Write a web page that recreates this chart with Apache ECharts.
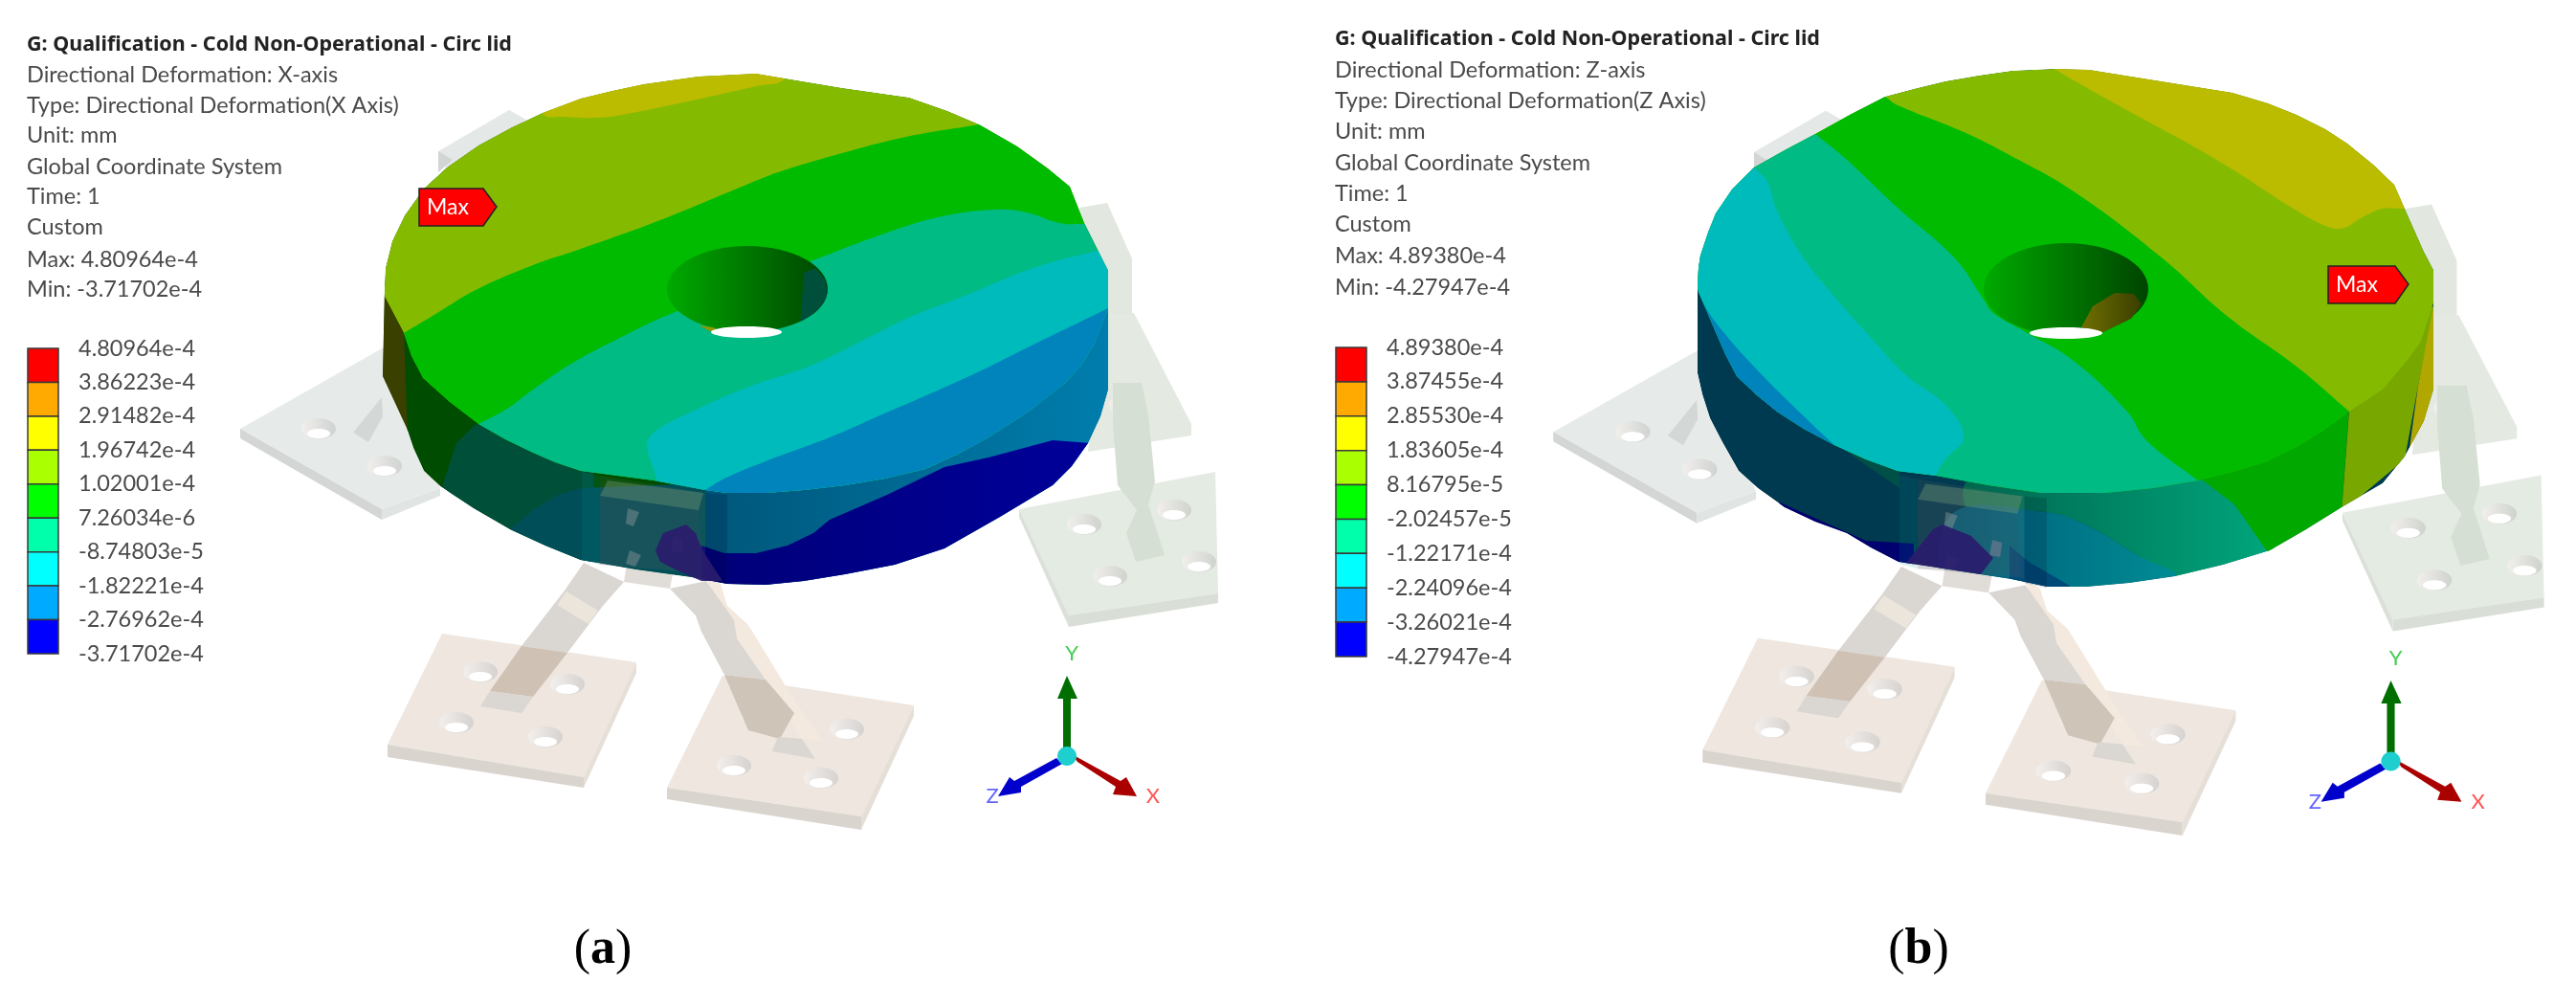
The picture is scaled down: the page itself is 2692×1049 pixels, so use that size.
<!DOCTYPE html>
<html lang="en">
<head>
  <meta charset="utf-8">
  <title>Directional deformation of the circular lid</title>
  <script src="https://cdn.jsdelivr.net/npm/echarts@6/dist/echarts.min.js"></script>
  <style>
    * { margin: 0; padding: 0; }
    html, body, #chart { width: 100%; height: 100%; overflow: hidden; background: #fff; }
  </style>
</head>
<body>
  <div id="chart"></div>
  <script>
    // ---- text ----
    var head = 'G: Qualification - Cold Non-Operational - Circ lid';
    var infoA = ['Directional Deformation: X-axis', 'Type: Directional Deformation(X Axis)', 'Unit: mm',
      'Global Coordinate System', 'Time: 1', 'Custom', 'Max: 4.80964e-4', 'Min: -3.71702e-4'];
    var infoB = ['Directional Deformation: Z-axis', 'Type: Directional Deformation(Z Axis)', 'Unit: mm',
      'Global Coordinate System', 'Time: 1', 'Custom', 'Max: 4.89380e-4', 'Min: -4.27947e-4'];
    var scaleA = ['4.80964e-4', '3.86223e-4', '2.91482e-4', '1.96742e-4', '1.02001e-4', '7.26034e-6',
      '-8.74803e-5', '-1.82221e-4', '-2.76962e-4', '-3.71702e-4'];
    var scaleB = ['4.89380e-4', '3.87455e-4', '2.85530e-4', '1.83605e-4', '8.16795e-5', '-2.02457e-5',
      '-1.22171e-4', '-2.24096e-4', '-3.26021e-4', '-4.27947e-4'];
    var scaleColors = ['#ff0000', '#ffaa00', '#ffff00', '#aaff00', '#00ff00', '#00ffaa', '#00ffff', '#00aaff', '#0000ff'];

    // ---- panel (a) lid, outlines and contour regions ----
    var aArc = [[402,300],[403,280],[410,252],[423,225],[443,197],[467,175],[500,152],[535,133],[567,118],[607,103],[640,95],[673,88],[730,80],[790,77],[820,82],[880,92],[950,102],[990,116],[1023,130],[1063,153],[1095,176],[1118,195],[1133,233],[1158,283]];
    var aRim = [[1158,322],[1143,360],[1130,382],[1113,400],[1075,430],[1033,457],[1000,475],[967,490],[925,500],[883,507],[840,512],[800,515],[760,515],[737,512],[683,502],[645,497],[607,492],[580,483],[557,473],[528,459],[500,443],[470,420],[442,395],[430,372],[422,348],[402,310]];
    var aFoot = [[1158,407],[1150,435],[1137,463],[1120,487],[1100,507],[1045,540],[987,573],[935,590],[883,600],[840,607],[800,611],[760,610],[723,603],[665,595],[607,585],[570,570],[533,553],[495,531],[460,508],[443,492],[432,468],[425,447],[400,393]];
    var aTop = aArc.concat(aRim);
    var aBody = aArc.concat(aFoot);
    var aOlive = [[567,118],[590,122],[623,123],[650,120],[723,105],[790,90],[820,82],[820,50],[560,50]];
    var aGreen = [[385,370],[422,348],[457,327],[497,303],[557,277],[607,260],[690,230],[780,193],[813,180],[880,160],[947,143],[1023,130],[1090,118],[1200,130],[1200,650],[385,650]];
    var aTeal = [[470,460],[500,443],[530,427],[557,407],[597,380],[640,357],[703,327],[847,273],[913,248],[980,227],[1040,219],[1073,222],[1107,233],[1133,234],[1170,234],[1200,650],[470,650]];
    var aCyan = [[692,530],[687,505],[683,490],[677,472],[677,460],[690,447],[723,430],[780,405],[847,382],[913,350],[947,333],[1013,307],[1080,280],[1147,262],[1185,255],[1200,650],[692,650]];
    var aBlue = [[710,528],[737,512],[757,500],[800,482],[867,457],[913,437],[1013,393],[1080,360],[1158,322],[1190,306],[1200,650],[710,650]];
    var aSideOlive = [[395,295],[422,348],[426,452],[395,452]];
    var aSideTeal = [[497,443],[477,463],[462,508],[533,570],[620,600],[620,480],[540,455]];
    var aSideCyan = [[533,553],[557,533],[583,517],[607,510],[737,505],[737,620],[560,590]];
    var aSideBlue = [[737,505],[1165,270],[1165,620],[737,620]];
    var aSideNavy = [[733,570],[757,578],[790,578],[823,570],[850,557],[867,543],[927,517],[987,488],[1033,478],[1100,460],[1140,463],[1170,470],[1170,650],[733,650]];
    var aBlob = [[685,575],[693,557],[717,548],[727,557],[733,573],[755,607],[733,607],[710,597],[690,587]];
    var aHole = [781, 302, 84, 45];
    var aHoleCap = [[840,285],[852,280],[862,292],[865,305],[860,322],[848,334],[836,341]];
    var aHoleLight = [780, 347, 37, 6];
    var aHoleOlive = [[730,340],[745,342],[755,347],[742,346]];
    var aFlag = [[438,197],[505,197],[519,216],[505,236],[438,236]];

    // ---- panel (b) lid ----
    var bArc = [[1774,300],[1775,280],[1777,267],[1785,243],[1793,223],[1810,198],[1833,175],[1865,157],[1897,140],[1933,120],[1970,101],[2000,93],[2033,85],[2068,79],[2103,74],[2147,72],[2183,73],[2258,85],[2333,97],[2370,108],[2400,120],[2430,135],[2453,150],[2480,172],[2502,193],[2513,218],[2533,263],[2543,282]];
    var bRim = [[2543,317],[2530,357],[2513,380],[2490,407],[2455,430],[2428,450],[2400,467],[2367,483],[2330,494],[2297,502],[2250,510],[2200,515],[2133,515],[2078,507],[2023,497],[1983,492],[1950,480],[1917,465],[1885,448],[1857,430],[1835,412],[1815,393],[1803,370],[1793,347],[1775,305]];
    var bFoot = [[2543,407],[2533,440],[2513,477],[2490,505],[2447,530],[2410,553],[2372,575],[2323,590],[2273,602],[2225,609],[2180,613],[2140,613],[2102,605],[2043,596],[1984,587],[1955,572],[1930,557],[1897,545],[1865,530],[1837,510],[1817,492],[1800,462],[1787,437],[1779,412],[1774,390]];
    var bTop = bArc.concat(bRim);
    var bBody = bArc.concat(bFoot);
    var bOlive = [[2120,55],[2147,72],[2183,93],[2250,130],[2287,150],[2333,177],[2400,220],[2433,237],[2450,238],[2467,228],[2490,218],[2513,218],[2570,218],[2600,50]];
    var bGreen = [[1945,85],[1970,101],[1983,110],[2050,137],[2100,162],[2167,200],[2260,270],[2327,330],[2400,383],[2455,430],[2495,465],[1700,700],[1700,50]];
    var bTeal = [[1870,118],[1897,140],[1930,167],[1983,217],[2043,270],[2073,313],[2083,327],[2117,347],[2167,377],[2223,430],[2243,460],[2297,502],[2335,530],[1700,700],[1700,50]];
    var bCyan = [[1825,165],[1835,177],[1847,190],[1857,220],[1883,267],[1917,310],[1950,347],[1993,393],[2033,423],[2052,457],[2033,480],[2023,497],[2015,530],[1700,700],[1700,50]];
    var bBlue = [[1760,285],[1776,310],[1793,337],[1833,383],[1883,433],[1917,465],[1950,495],[1700,700],[1700,310]];
    var bSideSliver = [[1920,465],[1985,490],[1985,510]];
    var bSideNavy = [[1860,525],[1950,565],[2000,568],[2000,600],[1925,580],[1850,540]];
    var bSideTeal = [[2060,500],[2297,498],[2335,527],[2375,578],[2273,602],[2233,580],[2183,550],[2137,535],[2060,537]];
    var bSideBlue = [[2040,537],[2137,535],[2183,550],[2233,580],[2273,602],[2200,620],[2040,620]];
    var bSideDeep = [[2100,570],[2120,587],[2163,612],[2163,620],[2100,620]];
    var bSideGreen = [[2297,498],[2455,425],[2447,535],[2372,580],[2335,527]];
    var bSideLime = [[2455,428],[2545,317],[2527,403],[2513,480],[2447,535]];
    var bSideOlive = [[2545,310],[2550,420],[2515,490],[2527,403]];
    var bBlob = [[1992,588],[2020,553],[2030,548],[2060,560],[2083,583],[2070,600]];
    var bHole = [2159, 302, 86, 48];
    var bHoleOlive = [[2175,342],[2187,320],[2210,306],[2230,307],[2238,318],[2227,333],[2198,347]];
    var bHoleLight = [2159, 348, 38, 6];
    var bFlag = [[2433,278],[2503,278],[2517,297],[2503,317],[2433,317]];

    // ---- mounts, shared by both panels (panel a scene units) ----
    var plateLeft = [[251,448],[401,363],[460,510],[399,532]];
    var plateLeftSide = [[251,448],[399,532],[399,543],[251,458]];
    var plateLeftEdge = [[399,532],[460,510],[460,518],[399,543]];
    var plateLeftLeg = [[369,452],[399,415],[400,435],[385,462]];
    var plateLeftHoles = [[333,448],[402,487]];
    var tabBack = [[458,158],[532,115],[550,125],[467,177]];
    var tabBackSide = [[458,158],[473,167],[458,180]];
    var tabRight = [[1128,217],[1157,212],[1183,270],[1183,328],[1150,328]];
    var plateUpper = [[1150,328],[1185,327],[1245,443],[1245,455],[1137,472]];
    var plateUpperHoles = [[1177,423]];
    var legRight = [[1163,400],[1193,400],[1200,433],[1207,503],[1200,527],[1217,580],[1187,587],[1177,557],[1188,533],[1168,507],[1163,443]];
    var plateRight = [[1065,532],[1270,493],[1273,620],[1117,643]];
    var plateRightSide = [[1117,643],[1273,620],[1273,630],[1117,655]];
    var plateRightEdge = [[1065,532],[1117,643],[1117,655],[1065,540]];
    var plateRightHoles = [[1133,548],[1227,533],[1160,602],[1253,587]];
    var plateFrontA = [[462,662],[665,692],[610,812],[405,778]];
    var plateFrontASide = [[405,778],[610,812],[610,823],[405,791]];
    var plateFrontAEdge = [[665,692],[665,703],[610,823],[610,812]];
    var plateFrontAHoles = [[502,702],[593,715],[477,755],[570,770]];
    var plateFrontB = [[755,706],[955,737],[900,853],[697,823]];
    var plateFrontBSide = [[697,823],[900,853],[900,867],[697,835]];
    var plateFrontBEdge = [[955,737],[955,748],[900,867],[900,853]];
    var plateFrontBHoles = [[792,747],[885,762],[767,800],[858,813]];
    var strut = [[652,608],[700,615],[705,590],[655,590]];
    var legA = [[610,588],[652,608],[630,633],[593,682],[545,675],[590,617]];
    var legABand = [[592,618],[625,638],[615,652],[582,632]];
    var legAFoot = [[545,675],[593,682],[557,728],[512,722]];
    var legATip = [[512,722],[557,728],[545,745],[502,738]];
    var legBFin = [[737,603],[753,610],[760,633],[782,653],[823,720],[860,775],[837,772],[800,710],[770,667]];
    var legB = [[700,615],[738,607],[767,648],[770,667],[800,710],[757,705],[733,660],[727,643]];
    var legBFoot = [[757,705],[800,710],[830,745],[815,772],[782,763]];
    var legBTip = [[813,770],[838,772],[852,793],[807,785]];
    var bracketBox = [[627,497],[737,515],[737,600],[627,590]];
    var bracketStrip = [[608,493],[627,497],[627,590],[608,585]];
    var bracketBar = [[737,515],[760,517],[760,610],[737,605]];
    var bracketTop = [[635,502],[735,515],[730,533],[627,518]];
    var bracketInner = [[627,518],[730,533],[733,597],[627,590]];
    var bracketPegs = [[[656,531],[668,535],[662,550],[654,547]], [[658,575],[670,580],[664,592],[654,589]], [[704,560],[714,563],[712,578],[701,576]]];

    // ---- axis triad ----
    var triadY = [[1111,790],[1119,790],[1119,730],[1126,730],[1115,706],[1105,730],[1111,730]];
    var triadX = [[1120,788],[1126,796],[1166,822],[1163,830],[1188,832],[1177,812],[1171,816]];
    var triadZ = [[1104,792],[1110,798],[1067,822],[1067,828],[1043,832],[1055,812],[1060,816]];
    var triadBall = [1115, 790, 10, 10];
    var triadLetters = [['Y', 1120, 683, '#44cc55'], ['Z', 1037, 832, '#6666ff'], ['X', 1205, 832, '#ff5555']];

    // ---- text placement ----
    var lineYA = [45, 77, 109, 140, 173, 204, 236, 270, 301];
    var lineYB = [39, 72, 104, 136, 169, 201, 233, 266, 299];

    // ---- shape helpers, everything goes through api.coord / api.size ----
    var hgrad = function (from, to) {
      return { type: 'linear', x: 0, y: 0, x2: 1, y2: 0, colorStops: [{ offset: 0, color: from }, { offset: 1, color: to }] };
    };
    function poly(pts, fill) { return { pts: pts, fill: fill }; }
    function band(pts, fill) { return { pts: pts, fill: fill, smooth: 0.4 }; }
    function oval(box, fill) { return { box: box, fill: fill }; }
    function holes(centers, rim) {
      var out = [];
      centers.forEach(function (c) {
        out.push(oval([c[0], c[1], 18, 11], hgrad('#f2efec', rim)));
        out.push(oval([c[0], c[1] + 5, 12, 5], '#ffffff'));
      });
      return out;
    }
    function toEl(s, api) {
      if (s.pts) {
        return { type: 'polygon', shape: { points: s.pts.map(function (p) { return api.coord(p); }), smooth: s.smooth || 0 }, style: { fill: s.fill } };
      }
      var c = api.coord([s.box[0], s.box[1]]);
      var r = api.size([s.box[2], s.box[3]]);
      return { type: 'ellipse', shape: { cx: c[0], cy: c[1], rx: r[0], ry: r[1] }, style: { fill: s.fill } };
    }
    // one custom series per layer; optional outline clips the whole layer
    function layer(shapes, axis, outline, z) {
      return {
        type: 'custom', xAxisIndex: axis, yAxisIndex: axis, z: z, silent: true, data: [[0, 0]],
        renderItem: function (params, api) {
          var group = { type: 'group', children: shapes.map(function (s) { return toEl(s, api); }) };
          if (outline) {
            group.clipPath = { type: 'polygon', shape: { points: outline.map(function (p) { return api.coord(p); }) } };
          }
          return group;
        }
      };
    }

    var backProps = [].concat(
      [poly(plateLeft, '#e6ebe9'), poly(plateLeftSide, '#d3d6d5'), poly(plateLeftEdge, '#e0e4e2')],
      holes(plateLeftHoles, '#cfd3d1'),
      [poly(plateLeftLeg, '#d3d8d6')],
      [poly(tabBack, '#e4e8e6'), poly(tabBackSide, '#d2d5d3')],
      [poly(tabRight, '#e2e8df'), poly(plateUpper, '#e4eae2')],
      holes(plateUpperHoles, '#cfd3cd'),
      [poly(plateRight, '#e4ebe2'), poly(plateRightSide, '#d9ded7'), poly(plateRightEdge, '#dbe0d9')],
      holes(plateRightHoles, '#cfd3cd'),
      [poly(legRight, '#d6dfd3')],
      [poly(plateFrontA, '#eee6df'), poly(plateFrontASide, '#d9d4ce'), poly(plateFrontAEdge, '#e6dfd8')],
      holes(plateFrontAHoles, '#d5d2cf'),
      [poly(plateFrontB, '#eee6df'), poly(plateFrontBSide, '#d9d4ce'), poly(plateFrontBEdge, '#e6dfd8')],
      holes(plateFrontBHoles, '#d5d2cf'),
      [poly(strut, '#e0dcd8'), poly(legA, '#dad6d2'), poly(legABand, '#ece5dc'), poly(legAFoot, '#cfc2b5'), poly(legATip, '#dad6d2')],
      [poly(legBFin, '#f3e9de'), poly(legB, '#dad6d2'), poly(legBFoot, '#cfc4b8'), poly(legBTip, '#dad6d2')]
    );
    var frontProps = [
      poly(bracketStrip, 'rgba(0,150,150,0.14)'), poly(bracketBox, 'rgba(110,120,110,0.14)'), poly(bracketBar, 'rgba(0,0,40,0.16)'),
      poly(bracketInner, 'rgba(80,80,90,0.14)'), poly(bracketTop, 'rgba(120,150,115,0.4)'),
      poly(bracketPegs[0], 'rgba(140,150,150,0.45)'), poly(bracketPegs[1], 'rgba(140,150,150,0.45)'), poly(bracketPegs[2], 'rgba(140,130,150,0.5)')
    ];
    var triad = [poly(triadY, '#006f00'), poly(triadX, '#aa0000'), poly(triadZ, '#0000cc'), oval(triadBall, '#1fcfcf')];

    var aSide = [poly(aBody, '#004c00'), poly(aSideOlive, '#3a4000'), poly(aSideTeal, '#004f38'), poly(aSideCyan, '#004f58'),
      poly(aSideBlue, hgrad('#00567a', '#007eae')), poly(aSideNavy, hgrad('#000078', '#00009c'))];
    var aFace = [poly(aTop, '#84bb00'), band(aOlive, '#bbbb00'), band(aGreen, '#00bb00'), band(aTeal, '#00bb84'), band(aCyan, '#00bbbb'), band(aBlue, '#0084bb')];
    var aBore = [oval(aHole, hgrad('#00aa00', '#004400'))];
    var aBoreCap = [oval(aHole, '#004f3a')];
    var aBoreLight = [poly(aHoleOlive, '#8a9a00'), oval(aHoleLight, '#ffffff')];
    var bSide = [poly(bBody, '#003a50'), poly(bSideSliver, '#005048'), poly(bSideNavy, '#00006e'),
      band(bSideTeal, hgrad('#00664e', '#00a67c')), band(bSideBlue, hgrad('#005a78', '#008c94')), poly(bSideDeep, '#004a78'),
      poly(bSideGreen, '#00a800'), poly(bSideLime, '#78a800'), poly(bSideOlive, '#b0a800')];
    var bFace = [poly(bTop, '#84bb00'), band(bOlive, '#bbbb00'), band(bGreen, '#00bb00'), band(bTeal, '#00bb84'), band(bCyan, '#00bbbb'), band(bBlue, '#0084bb')];
    var bBore = [oval(bHole, hgrad('#00aa00', '#004400')), poly(bHoleOlive, hgrad('#6f6f00', '#3a3f00')), oval(bHoleLight, '#ffffff')];
    var blobs = [poly(aBlob, 'rgba(42,28,108,0.92)'), poly(bBlob, 'rgba(42,28,108,0.92)')];

    function flagSeries(pts, x, y) {
      return {
        type: 'custom', xAxisIndex: 0, yAxisIndex: 0, z: 8, silent: true, data: [[0, 0]],
        renderItem: function (params, api) {
          var c = api.coord([x, y]);
          return { type: 'group', children: [
            { type: 'polygon', shape: { points: pts.map(function (p) { return api.coord(p); }) }, style: { fill: '#ff0000', stroke: '#222', lineWidth: 1.5 } },
            { type: 'text', x: c[0], y: c[1], style: { text: 'Max', fill: '#fff', font: '23px Lato', verticalAlign: 'middle' } }
          ] };
        }
      };
    }
    function triadText(axis) {
      return {
        type: 'custom', xAxisIndex: axis, yAxisIndex: axis, z: 8, silent: true, data: triadLetters.map(function (d, i) { return [i, 0]; }),
        renderItem: function (params, api) {
          var d = triadLetters[params.dataIndex];
          var c = api.coord([d[1], d[2]]);
          return { type: 'text', x: c[0], y: c[1], style: { text: d[0], fill: d[3], font: '22px Lato', align: 'center', verticalAlign: 'middle' } };
        }
      };
    }
    function barSeries(axis) {
      return {
        type: 'custom', xAxisIndex: axis, yAxisIndex: axis, z: 8, silent: true, data: scaleColors.map(function (c, i) { return [0, i]; }),
        renderItem: function (params, api) {
          var i = params.dataIndex;
          var p0 = api.coord([0, i]);
          var p1 = api.coord([1, i + 1]);
          return { type: 'rect', shape: { x: p0[0], y: p0[1], width: p1[0] - p0[0], height: p1[1] - p0[1] },
            style: { fill: scaleColors[i], stroke: '#3a3a3a', lineWidth: 1.5 } };
        }
      };
    }

    // text block: one title per line
    var titles = [];
    function textBlock(x, lines, ys) {
      titles.push({ left: x, top: ys[0] - 9, padding: 0, text: head, textStyle: { fontFamily: 'Noto Sans', fontSize: 21.5, fontWeight: 'bold', color: '#222' } });
      lines.forEach(function (s, i) {
        titles.push({ left: x, top: ys[i + 1] - 11, padding: 0, text: s, textStyle: { fontFamily: 'Lato', fontSize: 23.5, fontWeight: 'normal', color: '#4a4a4a' } });
      });
    }
    textBlock(28, infoA, lineYA);
    textBlock(1395, infoB, lineYB);
    function caption(cx, letter) {
      titles.push({ left: cx, top: 962, textAlign: 'center', text: '{n|(}{b|' + letter + '}{n|)}', textStyle: { rich: {
        n: { fontFamily: 'Liberation Serif', fontSize: 52, fontWeight: 'normal', color: '#000' },
        b: { fontFamily: 'Liberation Serif', fontSize: 52, fontWeight: 'bold', color: '#000' } } } });
    }
    caption(625, 'a');
    caption(2000, 'b');

    function hiddenAxis(min, max, inverse, grid) {
      return { type: 'value', min: min, max: max, inverse: inverse, show: false, gridIndex: grid };
    }
    function scaleAxis(labels, grid) {
      return {
        type: 'value', min: 0, max: 9, interval: 1, inverse: true, gridIndex: grid, position: 'right',
        axisLine: { show: false }, axisTick: { show: false }, splitLine: { show: false },
        axisLabel: { margin: 21, align: 'left', fontFamily: 'Lato', fontSize: 23.5, color: '#4a4a4a', hideOverlap: false, showMinLabel: true, showMaxLabel: true,
          formatter: function (v) { return labels[v]; } }
      };
    }

    var chart = echarts.init(document.getElementById('chart'));
    chart.setOption({
      animation: false,
      backgroundColor: '#ffffff',
      title: titles,
      grid: [
        { left: 0, top: 0, width: 2692, height: 1049 },
        { left: 1369, top: -6, width: 1316.9, height: 1013 },
        { left: 29, top: 364, width: 32, height: 319 },
        { left: 1396, top: 363, width: 32, height: 323 }
      ],
      xAxis: [hiddenAxis(0, 2692, false, 0), hiddenAxis(0, 1300, false, 1), hiddenAxis(0, 1, false, 2), hiddenAxis(0, 1, false, 3)],
      yAxis: [hiddenAxis(0, 1049, true, 0), hiddenAxis(0, 1000, true, 1), scaleAxis(scaleA, 2), scaleAxis(scaleB, 3)],
      series: [
        layer(backProps, 0, null, 2),
        layer(backProps, 1, null, 2),
        layer(aSide, 0, aBody, 3),
        layer(bSide, 0, bBody, 3),
        layer(aFace, 0, aTop, 4),
        layer(bFace, 0, bTop, 4),
        layer(aBore, 0, null, 5),
        layer(aBoreCap, 0, aHoleCap, 5),
        layer(aBoreLight, 0, null, 5),
        layer(bBore, 0, null, 5),
        layer(frontProps, 0, null, 6),
        layer(frontProps, 1, null, 6),
        layer(blobs, 0, null, 6),
        layer(triad, 0, null, 7),
        layer(triad, 1, null, 7),
        triadText(0),
        triadText(1),
        flagSeries(aFlag, 446, 217),
        flagSeries(bFlag, 2441, 298),
        barSeries(2),
        barSeries(3)
      ]
    });
  </script>
</body>
</html>
